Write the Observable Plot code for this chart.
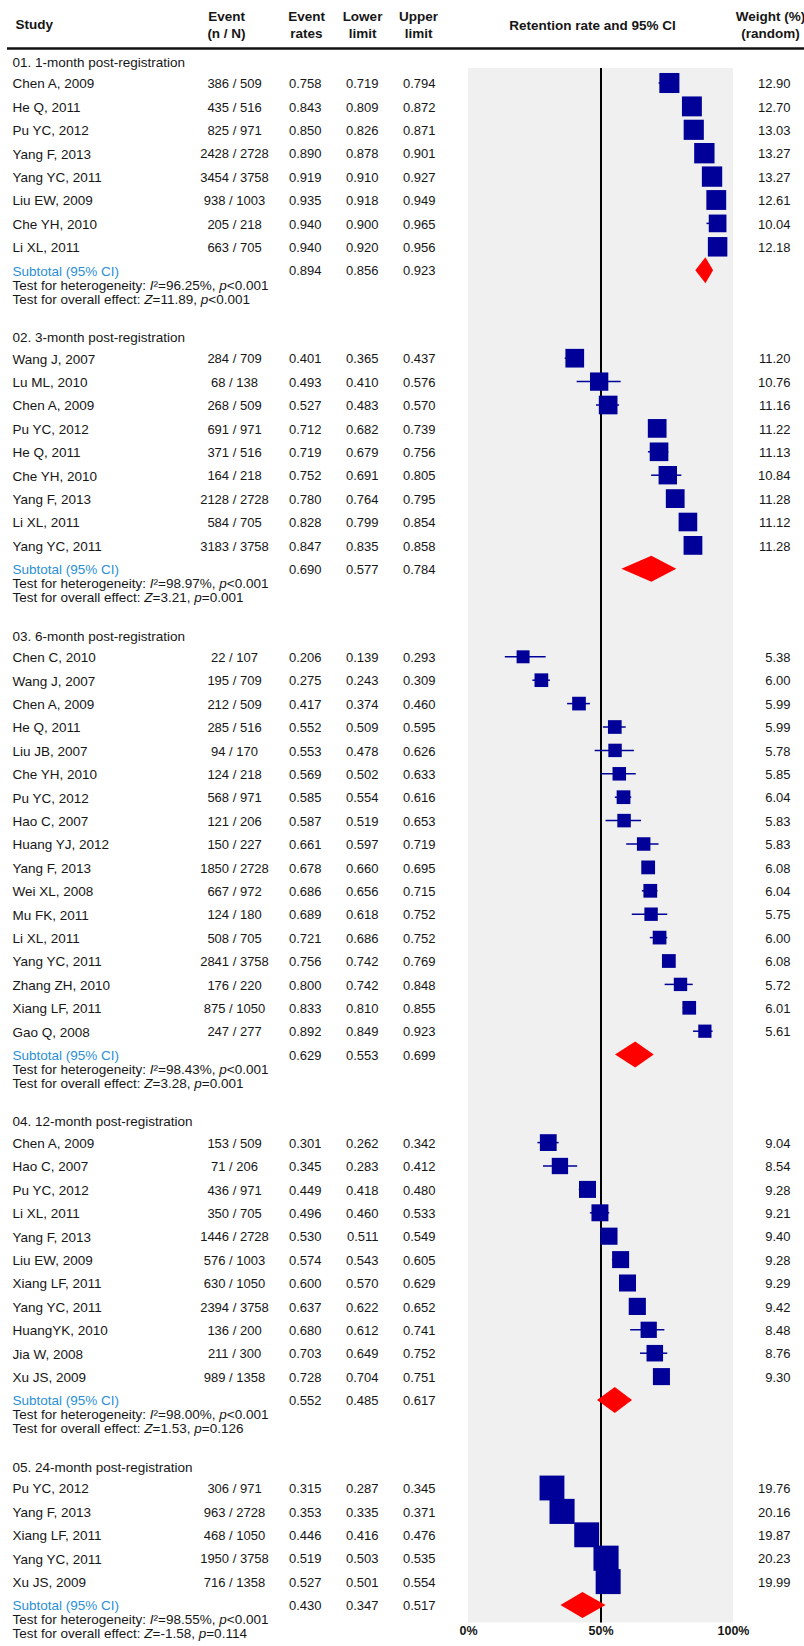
<!DOCTYPE html>
<html><head><meta charset="utf-8">
<script src="https://cdn.jsdelivr.net/npm/d3@7"></script>
<script src="https://cdn.jsdelivr.net/npm/@observablehq/plot@0.6"></script>
<style>
html,body{margin:0;padding:0;background:#fff;}
#chart svg{display:block;}
</style></head><body><div id="chart"></div>
<script>
// ---------------- DATA ----------------
const groupTitles = [
  "01. 1-month post-registration",
  "02. 3-month post-registration",
  "03. 6-month post-registration",
  "04. 12-month post-registration",
  "05. 24-month post-registration"
];
const studyNames = [
  ["Chen A, 2009","He Q, 2011","Pu YC, 2012","Yang F, 2013","Yang YC, 2011","Liu EW, 2009","Che YH, 2010","Li XL, 2011"],
  ["Wang J, 2007","Lu ML, 2010","Chen A, 2009","Pu YC, 2012","He Q, 2011","Che YH, 2010","Yang F, 2013","Li XL, 2011","Yang YC, 2011"],
  ["Chen C, 2010","Wang J, 2007","Chen A, 2009","He Q, 2011","Liu JB, 2007","Che YH, 2010","Pu YC, 2012","Hao C, 2007","Huang YJ, 2012","Yang F, 2013","Wei XL, 2008","Mu FK, 2011","Li XL, 2011","Yang YC, 2011","Zhang ZH, 2010","Xiang LF, 2011","Gao Q, 2008"],
  ["Chen A, 2009","Hao C, 2007","Pu YC, 2012","Li XL, 2011","Yang F, 2013","Liu EW, 2009","Xiang LF, 2011","Yang YC, 2011","HuangYK, 2010","Jia W, 2008","Xu JS, 2009"],
  ["Pu YC, 2012","Yang F, 2013","Xiang LF, 2011","Yang YC, 2011","Xu JS, 2009"]
];
const studyEvents = [
  ["386 / 509","435 / 516","825 / 971","2428 / 2728","3454 / 3758","938 / 1003","205 / 218","663 / 705"],
  ["284 / 709","68 / 138","268 / 509","691 / 971","371 / 516","164 / 218","2128 / 2728","584 / 705","3183 / 3758"],
  ["22 / 107","195 / 709","212 / 509","285 / 516","94 / 170","124 / 218","568 / 971","121 / 206","150 / 227","1850 / 2728","667 / 972","124 / 180","508 / 705","2841 / 3758","176 / 220","875 / 1050","247 / 277"],
  ["153 / 509","71 / 206","436 / 971","350 / 705","1446 / 2728","576 / 1003","630 / 1050","2394 / 3758","136 / 200","211 / 300","989 / 1358"],
  ["306 / 971","963 / 2728","468 / 1050","1950 / 3758","716 / 1358"]
];
const studyRates = [
  [0.758,0.843,0.850,0.890,0.919,0.935,0.940,0.940],
  [0.401,0.493,0.527,0.712,0.719,0.752,0.780,0.828,0.847],
  [0.206,0.275,0.417,0.552,0.553,0.569,0.585,0.587,0.661,0.678,0.686,0.689,0.721,0.756,0.800,0.833,0.892],
  [0.301,0.345,0.449,0.496,0.530,0.574,0.600,0.637,0.680,0.703,0.728],
  [0.315,0.353,0.446,0.519,0.527]
];
const studyLower = [
  [0.719,0.809,0.826,0.878,0.910,0.918,0.900,0.920],
  [0.365,0.410,0.483,0.682,0.679,0.691,0.764,0.799,0.835],
  [0.139,0.243,0.374,0.509,0.478,0.502,0.554,0.519,0.597,0.660,0.656,0.618,0.686,0.742,0.742,0.810,0.849],
  [0.262,0.283,0.418,0.460,0.511,0.543,0.570,0.622,0.612,0.649,0.704],
  [0.287,0.335,0.416,0.503,0.501]
];
const studyUpper = [
  [0.794,0.872,0.871,0.901,0.927,0.949,0.965,0.956],
  [0.437,0.576,0.570,0.739,0.756,0.805,0.795,0.854,0.858],
  [0.293,0.309,0.460,0.595,0.626,0.633,0.616,0.653,0.719,0.695,0.715,0.752,0.752,0.769,0.848,0.855,0.923],
  [0.342,0.412,0.480,0.533,0.549,0.605,0.629,0.652,0.741,0.752,0.751],
  [0.345,0.371,0.476,0.535,0.554]
];
const studyWeights = [
  [12.90,12.70,13.03,13.27,13.27,12.61,10.04,12.18],
  [11.20,10.76,11.16,11.22,11.13,10.84,11.28,11.12,11.28],
  [5.38,6.00,5.99,5.99,5.78,5.85,6.04,5.83,5.83,6.08,6.04,5.75,6.00,6.08,5.72,6.01,5.61],
  [9.04,8.54,9.28,9.21,9.40,9.28,9.29,9.42,8.48,8.76,9.30],
  [19.76,20.16,19.87,20.23,19.99]
];
const subtotalRates = [0.894,0.690,0.629,0.552,0.430];
const subtotalLower = [0.856,0.577,0.553,0.485,0.347];
const subtotalUpper = [0.923,0.784,0.699,0.617,0.517];
const heterogeneityTexts = [
  "Test for heterogeneity: I²=96.25%, p<0.001",
  "Test for heterogeneity: I²=98.97%, p<0.001",
  "Test for heterogeneity: I²=98.43%, p<0.001",
  "Test for heterogeneity: I²=98.00%, p<0.001",
  "Test for heterogeneity: I²=98.55%, p<0.001"
];
const effectTexts = [
  "Test for overall effect: Z=11.89, p<0.001",
  "Test for overall effect: Z=3.21, p=0.001",
  "Test for overall effect: Z=3.28, p=0.001",
  "Test for overall effect: Z=1.53, p=0.126",
  "Test for overall effect: Z=-1.58, p=0.114"
];
const tickValues = [0, 0.5, 1];
const tickLabels = ["0%", "50%", "100%"];

// ---------------- LAYOUT ----------------
const W = 804, H = 1646;
const PANEL_L = 468, PANEL_R = 733;
const toX = px => (px - PANEL_L) / (PANEL_R - PANEL_L);
const FONT = "'Liberation Sans', Arial, Helvetica, sans-serif";
const TXT = "#161616";
const NAVY = "#000099";
const RED = "#ff0000";
const BLUE = "#2b8fd6";
const LABEL_FS = 13.5, NUM_FS = 13;
const H1 = 21.5, P = 23.4, A = 14, G = 38.5, Y0 = 62;
const MARK_DY = -1;

const groupRows = [], studies = [], subtotals = [], statLines = [];
let yy = Y0;
groupTitles.forEach((title, g) => {
  groupRows.push({y: yy, label: title});
  yy += H1;
  studyNames[g].forEach((name, i) => {
    studies.push({y: yy, name, events: studyEvents[g][i], rate: studyRates[g][i],
      lower: studyLower[g][i], upper: studyUpper[g][i], weight: studyWeights[g][i]});
    yy += P;
  });
  const s = {y: yy, g, rate: subtotalRates[g], lower: subtotalLower[g], upper: subtotalUpper[g]};
  subtotals.push(s);
  statLines.push({y: yy + A, text: heterogeneityTexts[g]});
  statLines.push({y: yy + 2 * A, text: effectTexts[g]});
  yy += 2 * A + G;
});
const panelTop = Y0 + 6;
const panelBottom = subtotals[subtotals.length - 1].y + 17;
const DH = 13;
const diamonds = subtotals.flatMap(s => [
  {g: s.g, x: s.lower, y: s.y},
  {g: s.g, x: s.rate, y: s.y - DH},
  {g: s.g, x: s.upper, y: s.y},
  {g: s.g, x: s.rate, y: s.y + DH},
  {g: s.g, x: s.lower, y: s.y}
]);
const headerCols = [
  {px: 226, text: "Event\n(n / N)"},
  {px: 306, text: "Event\nrates"},
  {px: 362, text: "Lower\nlimit"},
  {px: 418, text: "Upper\nlimit"},
  {px: 592, text: "Retention rate and 95% CI"},
  {px: 770, text: "Weight (%)\n(random)"}
];
const COL = {name: 12, events: 234, rate: 321, lower: 378, upper: 435, weight: 790};
const f3 = d3.format(".3f"), f2 = d3.format(".2f");

const plot = Plot.plot({
  width: W, height: H,
  marginTop: 0, marginLeft: 0, marginRight: 0, marginBottom: H - panelBottom,
  x: {domain: [0, 1], range: [PANEL_L, PANEL_R]},
  y: {domain: [0, H], range: [0, H], axis: null},
  r: {type: "sqrt", domain: [0, 20], range: [0, 14.1]},
  style: {fontFamily: FONT, background: "#fff", color: TXT},
  marks: [
    // panel
    Plot.rect([0], {x1: 0, x2: 1, y1: () => panelTop, y2: () => panelBottom, fill: "#f0f0f0"}),
    Plot.ruleX([0.5], {y1: panelTop, y2: panelBottom, stroke: "#000", strokeWidth: 2}),
    // header
    Plot.text(["Study"], {x: () => toX(15), y: () => 24, text: d => d, textAnchor: "start",
      fontWeight: "bold", fontSize: 13.5, fill: TXT}),
    Plot.text(headerCols, {x: d => toX(d.px), y: () => 24, text: "text", textAnchor: "middle",
      fontWeight: "bold", fontSize: 13.5, lineHeight: 1.25, fill: TXT}),
    Plot.ruleY([48], {x1: toX(7), x2: toX(804), stroke: "#111", strokeWidth: 2.5}),
    // group titles
    Plot.text(groupRows, {x: () => toX(COL.name), y: "y", text: "label", textAnchor: "start", fontSize: LABEL_FS, fill: TXT}),
    // study rows
    Plot.text(studies, {x: () => toX(COL.name), y: "y", text: "name", textAnchor: "start", fontSize: LABEL_FS, fill: TXT}),
    Plot.text(studies, {x: () => toX(COL.events), y: "y", text: "events", textAnchor: "middle", fontSize: NUM_FS, fill: TXT}),
    Plot.text(studies, {x: () => toX(COL.rate), y: "y", text: d => f3(d.rate), textAnchor: "end", fontSize: NUM_FS, fill: TXT}),
    Plot.text(studies, {x: () => toX(COL.lower), y: "y", text: d => f3(d.lower), textAnchor: "end", fontSize: NUM_FS, fill: TXT}),
    Plot.text(studies, {x: () => toX(COL.upper), y: "y", text: d => f3(d.upper), textAnchor: "end", fontSize: NUM_FS, fill: TXT}),
    Plot.text(studies, {x: () => toX(COL.weight), y: "y", text: d => f2(d.weight), textAnchor: "end", fontSize: NUM_FS, fill: TXT}),
    // subtotals
    Plot.text(subtotals, {x: () => toX(COL.name), y: "y", text: () => "Subtotal (95% CI)", textAnchor: "start", fontSize: LABEL_FS, fill: BLUE}),
    Plot.text(subtotals, {x: () => toX(COL.rate), y: "y", text: d => f3(d.rate), textAnchor: "end", fontSize: NUM_FS, fill: TXT}),
    Plot.text(subtotals, {x: () => toX(COL.lower), y: "y", text: d => f3(d.lower), textAnchor: "end", fontSize: NUM_FS, fill: TXT}),
    Plot.text(subtotals, {x: () => toX(COL.upper), y: "y", text: d => f3(d.upper), textAnchor: "end", fontSize: NUM_FS, fill: TXT}),
    Plot.text(statLines, {x: () => toX(COL.name), y: "y", text: "text", textAnchor: "start", fontSize: LABEL_FS, fill: TXT, className: "stat"}),
    // forest marks
    Plot.ruleY(studies, {y: "y", x1: "lower", x2: "upper", stroke: NAVY, strokeWidth: 1.5, dy: MARK_DY}),
    Plot.dot(studies, {x: "rate", y: "y", r: "weight", symbol: "square", fill: NAVY, stroke: "none", dy: MARK_DY}),
    Plot.line(diamonds, {x: "x", y: "y", z: "g", fill: RED, stroke: "none", dy: MARK_DY}),
    // axis
    Plot.axisX({ticks: tickValues, tickFormat: d => tickLabels[tickValues.indexOf(d)], tickSize: 0,
      tickPadding: 3, fontSize: 12.5, fontWeight: "bold", fill: TXT, className: "xaxis", label: null})
  ]
});

// italicize statistical symbols
plot.querySelectorAll("g.stat text").forEach(t => {
  const s = t.textContent;
  t.textContent = "";
  s.split(/([IZp])(?=[²=<])/).forEach((part, i) => {
    if (!part) return;
    const ts = document.createElementNS("http://www.w3.org/2000/svg", "tspan");
    ts.textContent = part;
    if (i % 2 === 1) ts.setAttribute("font-style", "italic");
    t.appendChild(ts);
  });
});
document.getElementById("chart").appendChild(plot);
</script></body></html>
